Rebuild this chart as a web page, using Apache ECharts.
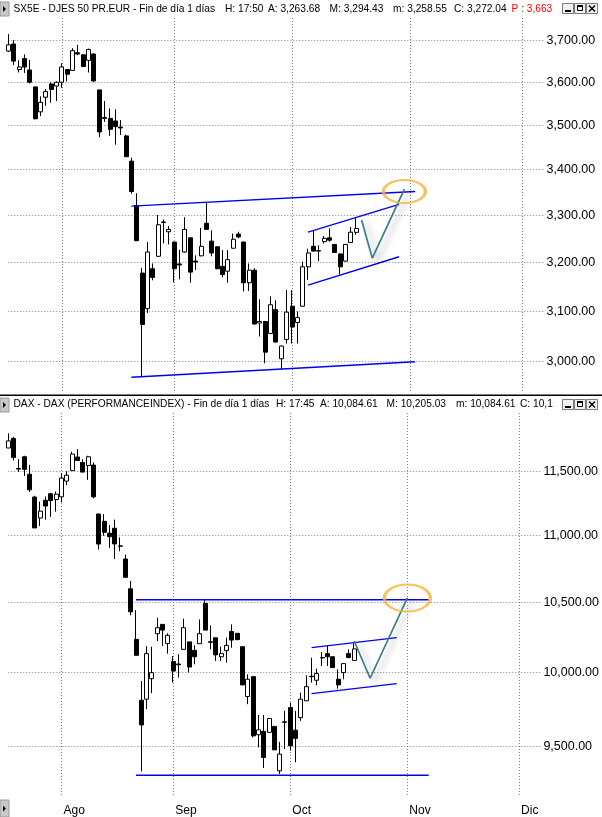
<!DOCTYPE html>
<html lang="es">
<head>
<meta charset="utf-8">
<title>SX5E / DAX</title>
<script src="https://cdn.jsdelivr.net/npm/echarts@6.0.0/dist/echarts.min.js"></script>
<style>
html, body { margin: 0; padding: 0; background: #fff; }
#chart { width: 602px; height: 817px; }
</style>
</head>
<body>
<div id="chart"></div>
<script>
// Trading sessions: weekdays from 20 Jul 2015, leaving room for the projection into December
const sessionStart = '2015-07-20';
const sessionCount = 101;
const monthNames = ['Ene', 'Feb', 'Mar', 'Abr', 'May', 'Jun', 'Jul', 'Ago', 'Sep', 'Oct', 'Nov', 'Dic'];

// Euro Stoxx 50 (SX5E) daily bars
const sxOpen  = [3674,3691,3630,3656,3629,3589,3531,3565,3596,3591,3600,3630,3628,3670,3665,3652,3667,3582,3518,3516,3510,3496,3476,3419,3321,3178,3105,3187,3213,3286,3265,3243,3197,3222,3252,3203,3214,3283,3245,3233,3192,3182,3230,3260,3243,3158,3184,3076,3079,3055,3103,3005,3043,3110,3077,3110,3191,3234,3225,3244,3252,3238,3218,3203,3242,3263.68];
const sxHigh  = [3715,3700,3652,3666,3653,3590,3567,3584,3600,3602,3645,3631,3681,3689,3666,3680,3668,3582,3556,3539,3537,3512,3479,3427,3348,3189,3243,3198,3301,3291,3277,3244,3227,3296,3253,3215,3273,3328,3268,3234,3226,3226,3261,3265,3244,3198,3188,3124,3080,3130,3122,3031,3143,3143,3099,3202,3229,3268,3236,3256,3272,3239,3219,3239,3275,3294.43];
const sxLow   = [3672,3641,3623,3622,3597,3514,3521,3545,3552,3556,3587,3602,3627,3664,3636,3623,3601,3473,3508,3476,3456,3478,3429,3347,3245,2969,3096,3163,3212,3240,3238,3159,3165,3221,3158,3184,3213,3270,3213,3186,3169,3158,3229,3251,3140,3141,3073,3049,2996,3054,3037,2984,3035,3035,3035,3109,3164,3223,3203,3240,3244,3220,3175,3202,3241,3258.55];
const sxClose = [3689,3650,3636,3636,3600,3515,3553,3578,3583,3600,3636,3619,3675,3667,3637,3678,3603,3485,3516,3491,3497,3494,3429,3352,3246,3073,3222,3169,3280,3285,3270,3187,3195,3270,3180,3201,3234,3270,3220,3187,3175,3206,3249,3254,3158,3184,3074,3079,3018,3113,3038,3030,3098,3068,3087,3191,3220,3224,3224,3251,3247,3221,3191,3238,3264,3272.04];

// DAX daily bars
const daxOpen  = [11690,11768,11525,11619,11479,11298,11135,11273,11324,11279,11300,11424,11508,11617,11573,11549,11552,11166,11109,11018,11056,10921,10822,10600,10234,9810,9817,9958,10274,10341,10205,10077,10060,10163,10216,10156,10203,10492,10217,10245,10111,10154,10290,10277,10182,9835,9972,9577,9599,9593,9633,9340,9660,9760,9608,9692,9806,9975,9947,10103,10133,10111,9954,10000,10133,10084.61];
const daxHigh  = [11810,11781,11600,11627,11554,11308,11262,11302,11332,11342,11487,11502,11660,11681,11600,11627,11573,11167,11166,11080,11122,10986,10855,10658,10444,9942,10186,10182,10389,10342,10277,10116,10128,10382,10217,10191,10377,10516,10334,10246,10182,10246,10341,10280,10183,9988,9973,9710,9710,9690,9634,9530,9738,9794,9737,9862,9981,10104,10028,10144,10191,10112,10023,10064,10163,10205.03];
const daxLow   = [11689,11589,11498,11465,11339,11058,11073,11122,11144,11184,11257,11392,11507,11588,11495,11434,11288,10893,10998,10906,10822,10880,10685,10407,10120,9336,9749,9858,10222,10186,10133,9931,9966,10162,10000,10058,10202,10299,10163,10081,10081,10069,10175,10228,9914,9783,9560,9493,9358,9590,9476,9320,9482,9472,9395,9670,9805,9931,9913,10046,10046,10034,9889,9954,10105,10084.61];
const daxClose = [11748,11613,11520,11518,11355,11058,11188,11228,11271,11321,11448,11471,11641,11589,11496,11619,11300,10935,11025,10991,10936,10919,10685,10432,10121,9643,10133,10000,10317,10300,10263,10011,10055,10317,10039,10111,10274,10300,10213,10124,10133,10191,10229,10232,9915,9954,9570,9610,9427,9686,9477,9449,9664,9504,9553,9817,9903,9972,9993,10105,10111,10035,9915,10063,10105,10166];

// Price scale labels
const sxTicks  = [3000, 3100, 3200, 3300, 3400, 3500, 3600, 3700];
const daxTicks = [9500, 10000, 10500, 11000, 11500];

// Drawn studies: range limits, short-term channel, projected path and target zone
const sxResistance    = [['2015-08-20', 3320], ['2015-11-03', 3352]];
const sxSupport       = [['2015-08-20', 2969], ['2015-11-03', 2999]];
const sxChannelTop    = [['2015-10-06', 3264], ['2015-10-29', 3324]];
const sxChannelBottom = [['2015-10-06', 3153], ['2015-10-29', 3212]];
const sxPath          = [['2015-10-20', 3290], ['2015-10-22', 3209], ['2015-10-30', 3357]];
const sxTarget        = [['2015-10-30', 3352]];

const daxResistance    = [['2015-08-21', 10520], ['2015-11-06', 10520]];
const daxSupport       = [['2015-08-21', 9311], ['2015-11-06', 9311]];
const daxChannelTop    = [['2015-10-07', 10175], ['2015-10-29', 10246]];
const daxChannelBottom = [['2015-10-07', 9855], ['2015-10-29', 9924]];
const daxPath          = [['2015-10-19', 10222], ['2015-10-22', 9961], ['2015-11-02', 10534]];
const daxTarget        = [['2015-11-02', 10532]];

function buildSessions(start, count) {
  const out = [];
  const d = new Date(start + 'T12:00:00Z');
  while (out.length < count) {
    const wd = d.getUTCDay();
    if (wd !== 0 && wd !== 6) out.push(d.toISOString().slice(0, 10));
    d.setUTCDate(d.getUTCDate() + 1);
  }
  return out;
}
const sessions = buildSessions(sessionStart, sessionCount);

function fmt2(v) {
  const parts = v.toFixed(2).split('.');
  return parts[0].replace(/\B(?=(\d{3})+(?!\d))/g, ',') + '.' + parts[1];
}
function bars(o, h, l, c) {
  return o.map((_, i) => [o[i], c[i], l[i], h[i]]);
}
const isMonthStart = i => i > 0 && sessions[i].slice(5, 7) !== sessions[i - 1].slice(5, 7);

const FONT = 'Liberation Sans, Arial, sans-serif';
const dotted = { color: '#808080', width: 1, type: [1, 2] };

function xAxis(gridIndex, withLabels) {
  return {
    type: 'category', gridIndex, data: sessions, boundaryGap: false,
    axisLine: { show: false }, axisTick: { show: false },
    axisLabel: {
      show: withLabels, interval: (i) => isMonthStart(i),
      formatter: (v) => monthNames[+v.slice(5, 7) - 1],
      align: 'left', margin: 8, color: '#000', fontSize: 12, fontFamily: FONT, padding: [0, 0, 0, 2]
    },
    splitLine: { show: true, interval: (i) => isMonthStart(i), lineStyle: dotted }
  };
}
function yAxis(gridIndex, ticks, min, max) {
  return {
    type: 'log', logBase: 10, gridIndex, position: 'right', min, max, scale: true,
    axisLine: { show: false },
    axisTick: { show: false, customValues: ticks },
    axisLabel: { customValues: ticks, formatter: (v) => fmt2(v), margin: 3, color: '#000', fontSize: 12.5, fontFamily: FONT },
    splitLine: { show: true, lineStyle: dotted }
  };
}

function candle(idx, o, h, l, c) {
  return {
    type: 'candlestick', xAxisIndex: idx, yAxisIndex: idx, data: bars(o, h, l, c),
    barWidth: 4.5, clip: false, silent: true,
    itemStyle: { color: '#fff', color0: '#000', borderColor: '#000', borderColor0: '#000', borderWidth: 1 }
  };
}
function trend(idx, data) {
  return {
    type: 'line', xAxisIndex: idx, yAxisIndex: idx, data, symbol: 'none', silent: true,
    lineStyle: { color: '#0000f0', width: 1.4 }, z: 3
  };
}
function path(idx, data) {
  return {
    type: 'line', xAxisIndex: idx, yAxisIndex: idx, data, symbol: 'none', silent: true,
    lineStyle: { color: '#3c7e86', width: 1.7, shadowColor: 'rgba(0,0,0,0.3)', shadowBlur: 6, shadowOffsetX: 5, shadowOffsetY: 3 }, z: 4
  };
}
function target(idx, data, w, h) {
  return {
    type: 'scatter', xAxisIndex: idx, yAxisIndex: idx, data, silent: true, z: 5,
    symbol: 'path://M0,50 A50,50 0 1,1 100,50 A50,50 0 1,1 0,50 Z', symbolSize: [w, h], symbolKeepAspect: false,
    itemStyle: { color: 'rgba(0,0,0,0)', borderColor: '#f2b43a', borderWidth: 2.6 }
  };
}

// Header rows built from the last session's bar
const last = sxClose.length - 1;
function headerText(y, pieces) {
  return pieces.map(p => ({
    type: 'text', x: p[0], y, silent: true,
    style: Object.assign({ text: p[1], fill: p[2] || '#000', fontSize: 10.2, fontFamily: FONT, verticalAlign: 'middle' }, p[3] || {})
  }));
}
function sideButton(y, h) {
  return [
    { type: 'rect', shape: { x: 0, y, width: 9, height: h }, style: { fill: '#c8c8c8', stroke: '#9a9a9a', lineWidth: 1 }, silent: true },
    { type: 'polygon', shape: { points: [[3, y + h / 2 - 3], [3, y + h / 2 + 3], [6, y + h / 2]] }, style: { fill: '#000' }, silent: true }
  ];
}
function windowButtons(y) {
  const g = [];
  [562, 574, 586].forEach((x, k) => {
    g.push({ type: 'rect', shape: { x: x + 0.5, y: y + 0.5, width: 11, height: 10 }, style: { fill: '#f0f0f0', stroke: '#7a7a7a', lineWidth: 1 }, silent: true });
    if (k === 0) g.push({ type: 'rect', shape: { x: x + 3, y: y + 7, width: 6, height: 2 }, style: { fill: '#000' }, silent: true });
    if (k === 1) g.push({ type: 'rect', shape: { x: x + 3.5, y: y + 2.5, width: 5, height: 5 }, style: { fill: 'none', stroke: '#000', lineWidth: 1 }, silent: true },
                         { type: 'rect', shape: { x: x + 3, y: y + 2, width: 6, height: 2 }, style: { fill: '#000' }, silent: true });
    if (k === 2) g.push({ type: 'polyline', shape: { points: [[x + 3, y + 2.5], [x + 9, y + 8.5]] }, style: { stroke: '#000', lineWidth: 1.4 }, silent: true },
                         { type: 'polyline', shape: { points: [[x + 9, y + 2.5], [x + 3, y + 8.5]] }, style: { stroke: '#000', lineWidth: 1.4 }, silent: true });
  });
  return g;
}

const graphics = [].concat(
  sideButton(2, 14),
  headerText(9, [
    [13.5, 'SX5E - DJES 50 PR.EUR - Fin de día 1 días'],
    [225, 'H: 17:50'],
    [268, 'A: ' + fmt2(sxOpen[last])],
    [329.6, 'M: ' + fmt2(sxHigh[last])],
    [393, 'm: ' + fmt2(sxLow[last])],
    [454, 'C: ' + fmt2(sxClose[last])],
    [511.5, 'P : 3,663', '#ff0000']
  ]),
  windowButtons(3),
  [{ type: 'rect', shape: { x: 0, y: 394.5, width: 602, height: 1.6 }, style: { fill: '#000' }, silent: true }],
  sideButton(398, 14),
  headerText(404, [
    [13.5, 'DAX - DAX (PERFORMANCEINDEX) - Fin de día 1 días'],
    [276, 'H: 17:45'],
    [320, 'A: ' + fmt2(daxOpen[last])],
    [386.5, 'M: ' + fmt2(daxHigh[last])],
    [456, 'm: ' + fmt2(daxLow[last])],
    [520, 'C: ' + fmt2(daxClose[last]), '#000', { width: 40, overflow: 'truncate', ellipsis: '' }]
  ]),
  windowButtons(399),
  sideButton(800, 17)
);

const chart = echarts.init(document.getElementById('chart'), null, { renderer: 'canvas' });
chart.setOption({
  animation: false,
  backgroundColor: '#fff',
  grid: [
    { left: 8.3, width: 535.3, top: 18, height: 375 },
    { left: 8.3, width: 535.3, top: 413, height: 385 }
  ],
  xAxis: [xAxis(0, false), xAxis(1, true)],
  yAxis: [yAxis(0, sxTicks, 2938.5, 3754.3), yAxis(1, daxTicks, 9171.6, 11978)],
  graphic: graphics,
  series: [
    candle(0, sxOpen, sxHigh, sxLow, sxClose),
    trend(0, sxResistance), trend(0, sxSupport), trend(0, sxChannelTop), trend(0, sxChannelBottom),
    path(0, sxPath), target(0, sxTarget, 42, 23),
    candle(1, daxOpen, daxHigh, daxLow, daxClose),
    trend(1, daxResistance), trend(1, daxSupport), trend(1, daxChannelTop), trend(1, daxChannelBottom),
    path(1, daxPath), target(1, daxTarget, 46, 27)
  ]
});
</script>
</body>
</html>
